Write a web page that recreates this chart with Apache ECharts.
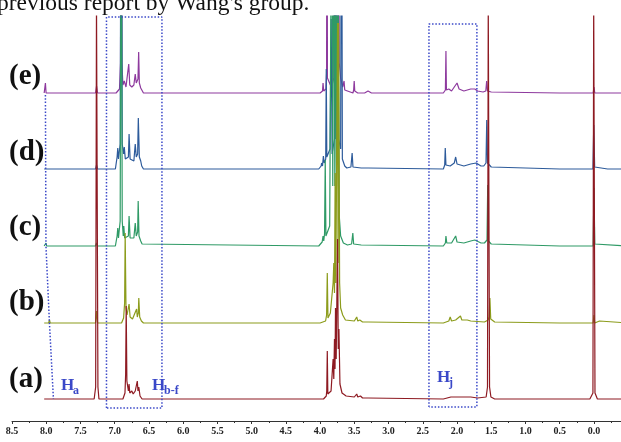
<!DOCTYPE html>
<html><head><meta charset="utf-8">
<script src="https://cdn.jsdelivr.net/npm/echarts@6/dist/echarts.min.js"></script>
<style>html,body{margin:0;padding:0;background:#fff}#c{width:621px;height:442px}</style>
</head><body><div id="c"></div>
<script>
// ---- data: [ppm, intensity] ----
const specE = [[8.03,0],[8.022,0],[8.012,10],[8.002,0],[7.28,0],[7.265,7],[7.25,0],[6.98,0],[6.93,4],[6.915,30],[6.905,400],[6.895,30],[6.88,8],[6.86,12],[6.835,6],[6.81,8],[6.795,29],[6.78,8],[6.75,6],[6.72,8],[6.70,19],[6.685,10],[6.66,14],[6.65,41],[6.64,10],[6.62,5],[6.61,3],[6.58,0],[4.0,0],[3.965,2],[3.957,10],[3.947,2],[3.915,4],[3.905,20],[3.90,400],[3.893,15],[3.85,8],[3.835,23],[3.825,8],[3.80,15],[3.79,400],[3.78,30],[3.76,400],[3.75,30],[3.735,400],[3.72,30],[3.70,15],[3.67,6],[3.65,12],[3.64,3],[3.52,0],[3.51,3],[3.502,12],[3.494,2],[3.45,0],[3.35,0],[3.3,2],[3.25,0],[2.2,0],[2.17,3],[2.162,42],[2.155,3],[2.12,4],[2.10,2],[2.08,2],[2.04,6],[2.00,10],[1.97,4],[1.90,2],[1.80,4],[1.74,4],[1.7,2],[1.62,1],[1.58,2],[1.567,12],[1.555,2],[1.5,1],[0.5,0],[0.012,0],[0.0,6],[-0.012,0],[-0.5,0]];
const specD = [[8.03,0],[7.28,0],[7.265,4],[7.25,0],[6.99,0],[6.965,12],[6.955,21],[6.945,10],[6.92,25],[6.905,400],[6.89,25],[6.87,15],[6.86,22],[6.845,10],[6.80,12],[6.79,35],[6.775,10],[6.72,8],[6.70,25],[6.685,12],[6.665,15],[6.655,51],[6.64,12],[6.62,8],[6.605,3],[6.58,0],[4.02,0],[3.985,3],[3.978,6],[3.965,3],[3.952,13],[3.94,6],[3.918,10],[3.91,100],[3.902,12],[3.855,20],[3.838,150],[3.825,15],[3.79,30],[3.78,400],[3.77,30],[3.745,400],[3.73,30],[3.70,20],[3.687,400],[3.675,10],[3.64,3],[3.61,1],[3.55,2],[3.532,16],[3.52,2],[3.4,1],[3.3,1],[2.2,0],[2.18,4],[2.172,21],[2.162,4],[2.10,3],[2.04,6],[2.02,12],[2.0,5],[1.9,3],[1.8,5],[1.72,6],[1.65,3],[1.61,3],[1.577,6],[1.566,49],[1.555,6],[1.5,2],[1.0,1],[0.5,0],[0.015,0],[0.003,44],[-0.01,2],[-0.2,0],[-0.5,0]];
const specC = [[8.03,0],[8.012,0],[8.003,3],[7.994,0],[7.28,0],[7.265,3],[7.25,0],[6.99,0],[6.965,10],[6.955,18],[6.945,8],[6.92,25],[6.905,400],[6.89,25],[6.875,10],[6.867,20],[6.855,8],[6.845,10],[6.80,10],[6.79,30],[6.775,8],[6.72,8],[6.70,23],[6.685,10],[6.665,14],[6.657,45],[6.645,10],[6.62,5],[6.6,2],[6.58,0],[4.02,0],[3.97,4],[3.957,10],[3.947,5],[3.935,12],[3.925,86],[3.915,10],[3.86,20],[3.83,400],[3.815,60],[3.80,400],[3.785,60],[3.775,400],[3.76,60],[3.745,400],[3.735,400],[3.72,30],[3.70,10],[3.66,3],[3.6,1],[3.54,2],[3.522,13],[3.51,2],[3.4,1],[2.2,0],[2.17,3],[2.162,10],[2.15,3],[2.08,3],[2.02,10],[2.0,4],[1.9,3],[1.8,5],[1.74,6],[1.65,3],[1.6,3],[1.562,6],[1.552,61],[1.542,5],[1.5,2],[0.5,0],[0.012,0],[0.0,58],[-0.012,2],[-0.5,0]];
const specB = [[8.03,0],[7.965,0],[7.953,3],[7.942,0],[7.28,0],[7.265,12],[7.25,0],[6.9,0],[6.87,5],[6.855,20],[6.847,90],[6.835,15],[6.82,8],[6.8,10],[6.79,19],[6.775,6],[6.74,4],[6.72,6],[6.68,14],[6.67,6],[6.655,10],[6.648,25],[6.635,6],[6.61,2],[6.58,0],[4.0,0],[3.92,2],[3.905,8],[3.895,50],[3.885,5],[3.85,10],[3.81,40],[3.80,60],[3.79,30],[3.78,150],[3.77,40],[3.745,300],[3.738,60],[3.73,300],[3.715,40],[3.70,15],[3.67,8],[3.63,3],[3.5,2],[3.465,6],[3.45,2],[3.42,3],[3.38,1],[3.3,1],[2.2,0],[2.12,2],[2.10,6],[2.08,2],[2.02,3],[1.95,7],[1.93,3],[1.85,3],[1.80,2],[1.6,1],[1.545,3],[1.533,6],[1.52,25],[1.508,4],[1.45,1],[0.5,0],[0.012,0],[0.0,8],[-0.012,0],[-0.08,2],[-0.1,0],[-0.5,0]];
const specA = [[8.03,0],[7.905,0],[7.895,1.5],[7.885,0],[7.30,0],[7.278,12],[7.266,400],[7.258,400],[7.245,12],[7.23,0],[6.88,0],[6.85,6],[6.84,25],[6.832,93],[6.822,18],[6.8,8],[6.79,15],[6.78,6],[6.75,8],[6.73,5],[6.70,8],[6.67,18],[6.66,8],[6.648,12],[6.63,3],[6.6,0],[3.95,0],[3.91,3],[3.903,8],[3.895,48],[3.887,5],[3.84,8],[3.81,40],[3.80,20],[3.79,60],[3.782,30],[3.775,91],[3.765,40],[3.745,160],[3.735,50],[3.725,70],[3.71,15],[3.68,6],[3.62,3],[3.5,2],[3.465,5],[3.45,2],[3.41,3],[3.38,1],[3.3,1],[2.2,0],[2.09,2],[2.07,4],[2.05,2],[1.95,2],[1.93,4],[1.9,2],[1.8,2],[1.7,1],[1.575,2],[1.555,12],[1.544,400],[1.536,400],[1.525,12],[1.505,2],[1.45,0],[0.5,0],[0.1,0],[0.08,2],[0.06,0],[0.015,6],[0.004,400],[-0.004,400],[-0.015,6],[-0.05,0],[-0.5,0]];
const spectrumLabels = ['(e)','(d)','(c)','(b)','(a)'];
const xTickValues = [8.5,8.0,7.5,7.0,6.5,6.0,5.5,5.0,4.5,4.0,3.5,3.0,2.5,2.0,1.5,1.0,0.5,0.0];
const axisTitle = 'f1 (ppm)';
// annotation geometry in data units (ppm, stacked intensity)
const boxHbf = [[7.12,13],[7.12,404],[6.31,404],[6.31,13],[7.12,13]];
const boxHj = [[2.41,14],[2.41,397],[1.71,397],[1.71,14],[2.41,14]];
const haPath = [[8.012,326],[8.004,175],[7.953,98],[7.895,22]];

// ---- layout / styles ----
const spectra = [specE, specD, specC, specB, specA];
const offsets = [328, 252, 175, 98, 22];
const colors = ['#8e3a9e', '#2d5b9b', '#2f9a66', '#8c9c1c', '#8e1a22'];
const labelTops = [62, 138, 213, 288, 365];
const serif = '"Liberation Serif","Times New Roman",serif';
const annot = '#3a48c8';

const series = spectra.map((s, i) => ({
  type: 'line', symbol: 'none', silent: true, clip: true,
  data: s.map(p => [p[0], p[1] + offsets[i]]),
  lineStyle: { color: colors[i], width: 1.2 }, z: 2 + i
}));
[boxHbf, boxHj, haPath].forEach(b => series.push({
  type: 'line', symbol: 'none', silent: true, clip: false, data: b, z: 10,
  lineStyle: { color: annot, width: 1.5, type: [1.5, 1.8] }
}));

const graphics = spectrumLabels.map((t, i) => ({
  type: 'text', left: 9, top: labelTops[i],
  style: { text: t, font: 'bold 29px ' + serif, fill: '#111' }
}));
graphics.push({ type: 'text', left: -3, top: -8,
  style: { text: "previous report by Wang's group.", font: '23.5px ' + serif, fill: '#111' } });
const sub = (h, s, x, y) => {
  graphics.push({ type: 'text', left: x, top: y, style: { text: h, font: 'bold 17px ' + serif, fill: annot } });
  graphics.push({ type: 'text', left: x + 12, top: y + 8, style: { text: s, font: 'bold 12px ' + serif, fill: annot } });
};
sub('H', 'a', 61, 377);
sub('H', 'b-f', 152, 377);
sub('H', 'j', 437, 369);

const chart = echarts.init(document.getElementById('c'), null, { renderer: 'canvas' });
chart.setOption({
  animation: false,
  backgroundColor: '#fff',
  grid: { left: 12, right: -7.2, top: 16, bottom: 21, containLabel: false, outerBoundsMode: 'none' },
  xAxis: {
    type: 'value', inverse: true, min: -0.5, max: 8.5, interval: 0.5,
    name: axisTitle, nameLocation: 'middle', nameGap: 17,
    nameTextStyle: { fontFamily: serif, fontWeight: 'bold', fontSize: 9, color: '#222' },
    axisLine: { onZero: false, lineStyle: { color: '#333', width: 1 } },
    axisTick: { show: true, length: 3, lineStyle: { color: '#333' } },
    minorTick: { show: true, splitNumber: 2, length: 2, lineStyle: { color: '#333' } },
    splitLine: { show: false },
    axisLabel: { margin: 5, fontFamily: serif, fontWeight: 'bold', fontSize: 10, color: '#222',
      formatter: v => xTickValues.some(t => Math.abs(t - v) < 1e-6) ? v.toFixed(1) : '' }
  },
  yAxis: { type: 'value', min: 0, max: 405, show: false },
  series: series,
  graphic: graphics
});
</script></body></html>
